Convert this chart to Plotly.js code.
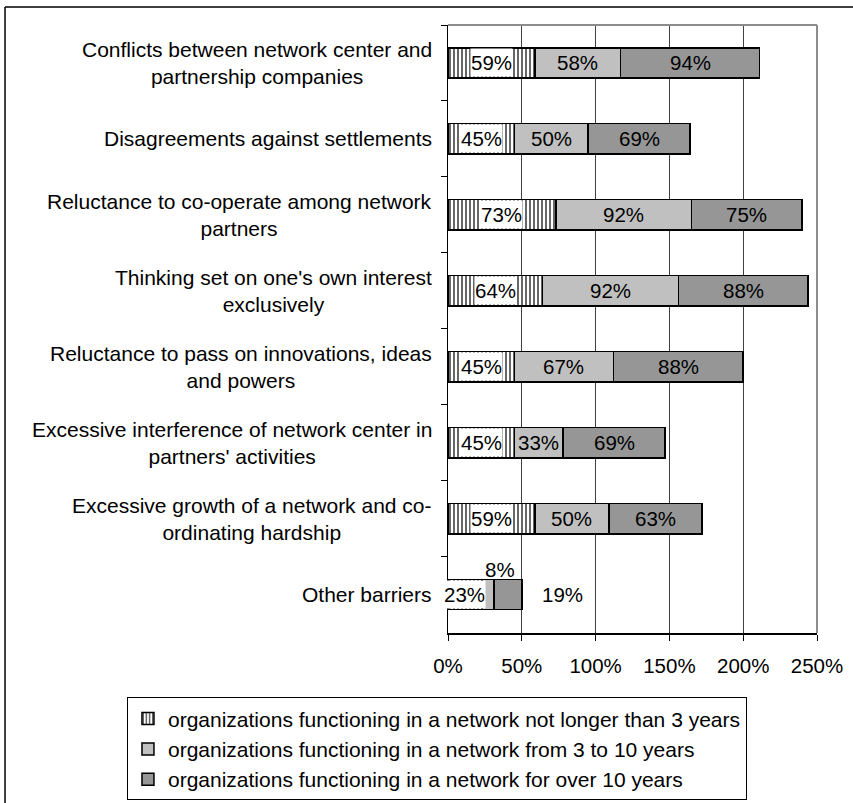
<!DOCTYPE html>
<html>
<head>
<meta charset="utf-8">
<script src="https://cdn.plot.ly/plotly-3.0.1.min.js"></script>
<style>
  html, body { margin: 0; padding: 0; background: #ffffff; }
  #chart { width: 853px; height: 803px; }
</style>
</head>
<body>
<div id="chart"></div>
<script>
// Barriers to network cooperation, by how long the organization has been in a network
const categories = [
  "Conflicts between network center and<br>partnership companies",
  "Disagreements against settlements",
  "Reluctance to co-operate among network<br>partners",
  "Thinking set on one's own interest<br>exclusively",
  "Reluctance to pass on innovations, ideas<br>and powers",
  "Excessive interference of network center in<br>partners' activities",
  "Excessive growth of a network and co-<br>ordinating hardship",
  "Other barriers"
];
const upTo3Years   = [59, 45, 73, 64, 45, 45, 59, 23];
const from3To10    = [58, 50, 92, 92, 67, 33, 50, 8];
const over10Years  = [94, 69, 75, 88, 88, 69, 63, 19];
const seriesNames = [
  "organizations functioning in a network not longer than 3 years",
  "organizations functioning in a network from 3 to 10 years",
  "organizations functioning in a network for over 10 years"
];
const xTicks = [0, 50, 100, 150, 200, 250];

const FONT = "Liberation Sans, Arial, Helvetica, sans-serif";
const outline = { color: "#000000", width: 1.5 };

const traces = [
  {
    type: "bar", orientation: "h", name: seriesNames[0],
    y: categories, x: upTo3Years,
    marker: {
      color: "#ffffff", line: outline,
      pattern: { shape: "|", fgcolor: "#000000", bgcolor: "#ffffff", size: 4, solidity: 0.3 }
    }
  },
  {
    type: "bar", orientation: "h", name: seriesNames[1],
    y: categories, x: from3To10,
    marker: { color: "#c0c0c0", line: outline }
  },
  {
    type: "bar", orientation: "h", name: seriesNames[2],
    y: categories, x: over10Years,
    marker: { color: "#969696", line: outline }
  }
];

// value labels, placed at the middle of each stacked segment
const annotations = [];
const labelFont = { family: FONT, size: 20.5, color: "#000000" };
const catFont = { family: FONT, size: 21, color: "#000000" };
categories.forEach((cat, i) => {
  const a = upTo3Years[i], b = from3To10[i], c = over10Years[i];
  annotations.push({
    xref: "x", yref: "y", x: a / 2, y: cat, text: a + "%",
    showarrow: false, font: labelFont, bgcolor: "#ffffff", borderpad: 0, height: 27
  });
  if (b >= 25) {
    annotations.push({ xref: "x", yref: "y", x: a + b / 2, y: cat, text: b + "%", showarrow: false, font: labelFont });
  } else {
    // narrow segment: label sits above the bar
    annotations.push({ xref: "x", yref: "y", x: a + b / 2, y: cat, text: b + "%", showarrow: false, font: labelFont, xshift: 12, yshift: 25 });
  }
  if (c >= 25) {
    annotations.push({ xref: "x", yref: "y", x: a + b + c / 2, y: cat, text: c + "%", showarrow: false, font: labelFont });
  } else {
    // narrow segment: label sits past the end of the bar
    annotations.push({ xref: "x", yref: "y", x: a + b + c, y: cat, text: c + "%", showarrow: false, font: labelFont, xanchor: "left", xshift: 18 });
  }
  // category label, lines centred on each other
  annotations.push({
    xref: "paper", yref: "y", x: 0, y: cat, xanchor: "right", xshift: -14,
    align: "center", text: cat, showarrow: false, font: catFont
  });
});

const layout = {
  width: 853, height: 803,
  margin: { l: 448, r: 36, t: 25, b: 170, pad: 0, autoexpand: false },
  paper_bgcolor: "#ffffff", plot_bgcolor: "#ffffff",
  font: { family: FONT, size: 20, color: "#000000" },
  barmode: "stack",
  bargap: 0.6,
  showlegend: true,
  hovermode: false,
  xaxis: {
    range: [0, 250], tickvals: xTicks, ticktext: xTicks.map(v => v + "%"),
    ticks: "outside", ticklen: 6, tickcolor: "#000000", tickwidth: 1,
    ticklabelstandoff: 8,
    showgrid: true, gridcolor: "#404040", gridwidth: 1,
    showline: true, linecolor: "#000000", linewidth: 1.5,
    zeroline: false, fixedrange: true,
    tickfont: { family: FONT, size: 20.5, color: "#000000" }
  },
  yaxis: {
    type: "category", autorange: "reversed",
    showticklabels: false, ticks: "outside", tickson: "boundaries",
    ticklen: 6, tickcolor: "#000000", tickwidth: 1,
    showgrid: false, showline: true, linecolor: "#000000", linewidth: 1.5,
    zeroline: false, fixedrange: true
  },
  legend: {
    orientation: "v", xref: "paper", yref: "paper",
    x: -0.87, xanchor: "left", y: -0.106, yanchor: "top",
    bgcolor: "#ffffff", bordercolor: "#000000", borderwidth: 1,
    font: { family: FONT, size: 21, color: "#000000" },
    traceorder: "normal", itemwidth: 30, tracegroupgap: 0
  },
  annotations: annotations,
  shapes: [
    // plot area frame on the top and right
    { type: "line", xref: "paper", yref: "paper", x0: 0, x1: 1, y0: 1, y1: 1, line: { color: "#8c8c8c", width: 2 } },
    { type: "line", xref: "paper", yref: "paper", x0: 1, x1: 1, y0: 0, y1: 1, line: { color: "#8c8c8c", width: 2 } },
    // chart border
    { type: "line", xref: "paper", yref: "paper", x0: -1.2005, x1: 1.2, y0: 1.0296, y1: 1.0296, line: { color: "#000000", width: 1.5 } },
    { type: "line", xref: "paper", yref: "paper", x0: -1.2005, x1: -1.2005, y0: -0.3, y1: 1.0296, line: { color: "#000000", width: 1.5 } }
  ]
};

Plotly.newPlot("chart", traces, layout, { displayModeBar: false, staticPlot: true });
</script>
</body>
</html>
